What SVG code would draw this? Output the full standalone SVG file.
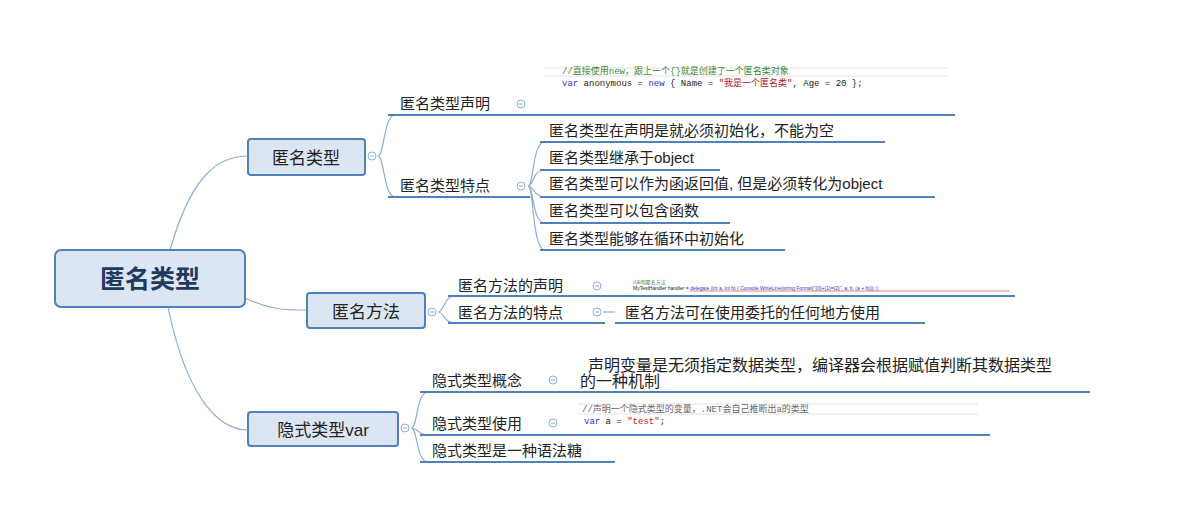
<svg xmlns="http://www.w3.org/2000/svg" width="1180" height="510" viewBox="0 0 1180 510">
<style>
text{font-family:"Liberation Sans","Noto Sans CJK SC",sans-serif;fill:#222}
.b{fill:#dce6f2;stroke:#4f81bd;stroke-width:2}
.c{fill:none;stroke:#8eaed4;stroke-width:1.2}
.u{fill:none;stroke:#4f81bd;stroke-width:2}
.t{font-size:15px}
.o{fill:#fff;stroke:#8eaed4;stroke-width:1}
.m{stroke:#8eaed4;stroke-width:1}
.code{font-family:"Liberation Mono","Noto Sans CJK SC",monospace;font-size:9px}
</style>
<defs><g id="col"><circle class="o" r="4"/><path class="m" d="M-2,0H2"/></g></defs>
<rect width="1180" height="510" fill="#fff"/>
<g id="connectors">
<path class="c" d="M170,250 C190,180 215,156 248,156"/>
<path class="c" d="M245,298 C270,310 285,310 307,310"/>
<path class="c" d="M168,307 C185,390 215,430 248,430"/>
<path class="c" d="M378,156 C384,156 384,115 395,115 M378,156 C384,156 384,197 395,197"/>
<path class="c" d="M528,186 C534,186 532,142 545,142 M528,186 C534,186 532,170 545,170 M528,186 C534,186 534,197 545,197 M528,186 C534,186 532,223 545,223 M528,186 C534,186 532,250 545,250"/>
<path class="c" d="M438,312 C444,312 444,296 455,296 M438,312 C444,312 444,323 455,323"/>
<path class="c" d="M411,428 C418,428 416,392 428,392 M411,428 C418,428 418,435 428,435 M411,428 C418,428 416,462 428,462"/>
<path class="c" d="M603,312 L615,312"/>
</g>
<g id="root"><rect class="b" x="55" y="250" width="190" height="57" rx="6" stroke-width="4"/><text x="150" y="288" text-anchor="middle" font-size="25" font-weight="bold" style="fill:#1f3a5f">匿名类型</text></g>
<g id="b1"><rect class="b" x="248" y="139" width="117" height="36" rx="3"/><text x="306" y="164" text-anchor="middle" font-size="17">匿名类型</text><use href="#col" x="372" y="156"/></g>
<g id="b2"><rect class="b" x="307" y="293" width="118" height="35" rx="3"/><text x="366" y="318" text-anchor="middle" font-size="17">匿名方法</text><use href="#col" x="432" y="312"/></g>
<g id="b3"><rect class="b" x="248" y="412" width="150" height="34" rx="3"/><text x="323" y="436" text-anchor="middle" font-size="17">隐式类型var</text><use href="#col" x="405" y="428"/></g>
<g id="n11"><text class="t" x="400" y="109">匿名类型声明</text><use href="#col" x="521" y="104"/><path class="u" d="M388,115H955"/></g>
<g id="code1"><path d="M545,68H948M545,76H948" stroke="#ddd" stroke-width="0.8"/><text class="code" x="562" y="74" style="fill:#3a8a3a">//直接使用new，跟上一个{}就是创建了一个匿名类对象</text><text class="code" x="562" y="86"><tspan style="fill:#3333cc">var</tspan> anonymous = <tspan style="fill:#3333cc">new</tspan> { Name = <tspan style="fill:#b22222">"我是一个匿名类"</tspan>, Age = 20 };</text></g>
<g id="n12"><text class="t" x="400" y="191">匿名类型特点</text><use href="#col" x="521" y="186"/><path class="u" d="M388,197H530"/></g>
<g id="n121"><text class="t" x="549" y="136">匿名类型在声明是就必须初始化，不能为空</text><path class="u" d="M540,142H885"/></g>
<g id="n122"><text class="t" x="549" y="163">匿名类型继承于object</text><path class="u" d="M540,170H720"/></g>
<g id="n123"><text class="t" x="549" y="189">匿名类型可以作为函返回值, 但是必须转化为object</text><path class="u" d="M540,197H935"/></g>
<g id="n124"><text class="t" x="549" y="216">匿名类型可以包含函数</text><path class="u" d="M540,223H730"/></g>
<g id="n125"><text class="t" x="549" y="244">匿名类型能够在循环中初始化</text><path class="u" d="M540,250H785"/></g>
<g id="n21"><text class="t" x="458" y="291">匿名方法的声明</text><use href="#col" x="597" y="286"/><path class="u" d="M448,296H1015"/></g>
<g id="code2"><text x="633" y="284" font-size="5" style="fill:#3a8a3a">//声明匿名方法</text><text x="633" y="290" font-size="5">MyTestHandler handler = <tspan style="fill:#3333cc">delegate (int a, int b) { Console.WriteLine(string.Format("{0}+{1}={2}", a, b, (a + b))); };</tspan></text><path d="M690,291H1010" stroke="#d33" stroke-width="0.6"/></g>
<g id="n22"><text class="t" x="458" y="318">匿名方法的特点</text><use href="#col" x="597" y="312"/><path class="u" d="M448,323H605"/></g>
<g id="n221"><text class="t" x="625" y="318">匿名方法可在使用委托的任何地方使用</text><path class="u" d="M615,323H925"/></g>
<g id="n31"><text class="t" x="432" y="386">隐式类型概念</text><use href="#col" x="553" y="380"/><path class="u" d="M420,392H1090"/></g>
<g id="n311"><text x="588" y="371" font-size="16">声明变量是无须指定数据类型，编译器会根据赋值判断其数据类型</text><text x="580" y="387" font-size="16">的一种机制</text></g>
<g id="n32"><text class="t" x="432" y="429">隐式类型使用</text><use href="#col" x="553" y="423"/><path class="u" d="M420,435H990"/></g>
<g id="code3"><path d="M578,404H978M578,414H978" stroke="#ddd" stroke-width="0.8"/><text class="code" x="582" y="412" style="fill:#666">//声明一个隐式类型的变量，.NET会自己推断出a的类型</text><text class="code" x="584" y="424"><tspan style="fill:#3333cc">var</tspan> a = <tspan style="fill:#b22222">"test"</tspan>;</text></g>
<g id="n33"><text class="t" x="432" y="456">隐式类型是一种语法糖</text><path class="u" d="M420,462H615"/></g>
</svg>
